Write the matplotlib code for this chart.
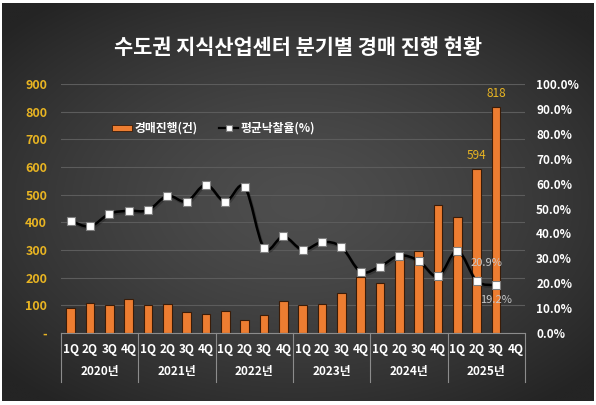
import matplotlib
matplotlib.use('Agg')
import matplotlib.pyplot as plt
import numpy as np
from matplotlib.path import Path
from matplotlib.patches import PathPatch, Rectangle
from matplotlib.lines import Line2D
import matplotlib.transforms as mtrans

plt.rcParams['font.family'] = ['Noto Sans CJK KR', 'DejaVu Sans']

# ---------------- data ----------------
years = ['2020년', '2021년', '2022년', '2023년', '2024년', '2025년']
quarters = ['1Q', '2Q', '3Q', '4Q']
auctions = [91, 108, 101, 124, 101, 105, 75, 69, 79, 47, 66, 117,
            102, 104, 143, 202, 180, 284, 296, 461, 418, 594, 818, np.nan]
rates = [45.1, 42.8, 47.9, 49.1, 49.3, 55.1, 52.8, 59.6, 52.7, 58.7, 34.1, 38.8,
         33.4, 36.5, 34.6, 24.6, 26.7, 31.1, 29.0, 22.7, 33.0, 20.9, 19.2, np.nan]
bar_labels = {21: '594', 22: '818'}
rate_labels = {21: '20.9%', 22: '19.2%'}
title = '수도권 지식산업센터 분기별 경매 진행 현황'
legend_bar = '경매진행(건)'
legend_line = '평균낙찰율(%)'

W, H = 596, 405
fig = plt.figure(figsize=(W / 100, H / 100), dpi=100, facecolor='white')

# ---------------- background gradient ----------------
bx0, by0, bx1, by1 = 2, 3, 594, 401  # pixel box (from top)
bg = fig.add_axes([bx0 / W, (H - by1) / H, (bx1 - bx0) / W, (by1 - by0) / H], zorder=-5)
bg.axis('off')
gx = np.linspace(-1, 1, 400)
gy = np.linspace(-1, 1, 300)
GX, GY = np.meshgrid(gx, gy)
R = np.sqrt((GX * 1.0) ** 2 + (GY * 1.05) ** 2) / 1.35
R = np.clip(R, 0, 1) ** 1.4
c_center = np.array([0x4e, 0x4e, 0x4e]) / 255
c_edge = np.array([0x24, 0x24, 0x24]) / 255
img = c_center[None, None, :] + (c_edge - c_center)[None, None, :] * R[:, :, None]
bg.imshow(img, aspect='auto', extent=[0, 1, 0, 1], interpolation='bilinear')
bg.set_xlim(0, 1)
bg.set_ylim(0, 1)

# ---------------- main axes ----------------
px0, px1, py_top, py_bot = 61, 525, 84, 333
ax = fig.add_axes([px0 / W, (H - py_bot) / H, (px1 - px0) / W, (py_bot - py_top) / H])
ax.set_facecolor('none')
n = len(auctions)
x = np.arange(n)
ax.set_xlim(-0.5, n - 0.5)
ax.set_ylim(0, 900)
ax.set_yticks(np.arange(0, 901, 100))
ax.yaxis.grid(True, color='#5c5c5c', lw=0.8)
ax.set_axisbelow(True)
ax.set_yticklabels(['-' if v == 0 else str(v) for v in range(0, 901, 100)],
                   color='#e8b422', fontsize=9, fontweight='bold')
ax.tick_params(axis='y', length=0, pad=10)
for s in ['top', 'left', 'right']:
    ax.spines[s].set_visible(False)
ax.spines['bottom'].set_color('#8c8c8c')
ax.spines['bottom'].set_linewidth(0.8)

ax.bar(x, auctions, width=0.44, color='#ED7D31', edgecolor='#3a1c08', linewidth=0.8, zorder=2)

ax.set_xticks(x)
ax.set_xticklabels(quarters * len(years), color='white', fontsize=8.5, fontweight='bold')
ax.tick_params(axis='x', length=0, pad=7)

trans = mtrans.blended_transform_factory(ax.transData, ax.transAxes)
sep_bottom = -(382 - py_bot) / (py_bot - py_top)
for i in range(len(years) + 1):
    xs = i * 4 - 0.5
    ax.add_line(Line2D([xs, xs], [0, sep_bottom], transform=trans, color='#8c8c8c',
                       lw=0.8, clip_on=False))
for i, yname in enumerate(years):
    ax.text(i * 4 + 1.5, -(372 - py_bot) / (py_bot - py_top), yname, transform=trans,
            ha='center', va='center', color='white', fontsize=8.5, fontweight='bold')

for i, lab in bar_labels.items():
    ax.annotate(lab, (x[i], auctions[i]), xytext=(0, 5), textcoords='offset points',
                ha='center', va='bottom', color='#e8b422', fontsize=8.5)

# ---------------- secondary axis ----------------
ax2 = ax.twinx()
ax2.set_ylim(0, 100)
ax2.set_yticks(np.arange(0, 101, 10))
ax2.set_yticklabels([f'{v:.1f}%' for v in range(0, 101, 10)], color='white',
                    fontsize=8.5, fontweight='bold')
ax2.tick_params(axis='y', length=0, pad=8)
for s in ax2.spines.values():
    s.set_visible(False)

# smoothed line (Catmull-Rom -> cubic Bezier) through the data points
valid = ~np.isnan(np.array(rates, dtype=float))
xv = x[valid].astype(float)
yv = np.array(rates, dtype=float)[valid]
pts = np.column_stack([xv, yv])
verts = [pts[0]]
codes = [Path.MOVETO]
for k in range(len(pts) - 1):
    p0 = pts[k - 1] if k > 0 else pts[k]
    p1 = pts[k]
    p2 = pts[k + 1]
    p3 = pts[k + 2] if k + 2 < len(pts) else pts[k + 1]
    c1 = p1 + (p2 - p0) / 6
    c2 = p2 - (p3 - p1) / 6
    verts += [c1, c2, p2]
    codes += [Path.CURVE4] * 3
ax2.add_patch(PathPatch(Path(verts, codes), facecolor='none', edgecolor='#1a1a1a',
                        lw=2.2, alpha=0.35, zorder=2,
                        transform=ax2.transData + mtrans.ScaledTranslation(1 / 100, -1.5 / 100, fig.dpi_scale_trans)))
ax2.add_patch(PathPatch(Path(verts, codes), facecolor='none', edgecolor='black',
                        lw=1.8, zorder=3))
ax2.plot(x, rates, ls='none', marker='s', ms=5.5, mfc='white', mec='#808080',
         mew=0.8, zorder=4)

ax2.annotate(rate_labels[21], (x[21], rates[21]), xytext=(7, 13), textcoords='offset points',
             ha='center', va='center', color='#c8c8c8', fontsize=8,
             arrowprops=dict(arrowstyle='-', color='#a8a8a8', lw=0.8, shrinkA=5, shrinkB=3))
ax2.annotate(rate_labels[22], (x[22], rates[22]), xytext=(0, -11), textcoords='offset points',
             ha='center', va='center', color='#c8c8c8', fontsize=8)

# ---------------- legend (manual) ----------------
def fy(p):
    return (H - p) / H

fig.patches.append(Rectangle((112 / W, fy(131)), 20 / W, 6 / H, transform=fig.transFigure,
                             facecolor='#ED7D31', edgecolor='#3a1c08', lw=0.6))
fig.text(134 / W, fy(128), legend_bar, color='white', fontsize=8.5, fontweight='bold',
         ha='left', va='center')
fig.add_artist(Line2D([219 / W, 238 / W], [fy(128), fy(128)], transform=fig.transFigure,
                      color='black', lw=1.6))
fig.add_artist(Line2D([228.5 / W], [fy(128)], transform=fig.transFigure, marker='s',
                      ms=5, mfc='white', mec='#808080', mew=0.8))
fig.text(241 / W, fy(128), legend_line, color='white', fontsize=8.5, fontweight='bold',
         ha='left', va='center')

# ---------------- title ----------------
fig.text(298 / W, fy(47), title, color='white', fontsize=15, fontweight='bold',
         ha='center', va='center')

fig.savefig('out.png', dpi=100, facecolor='white')
